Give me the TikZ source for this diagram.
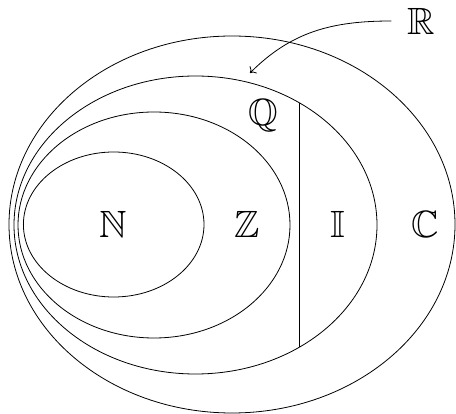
\documentclass[tikz,border=0pt]{standalone}
\usepackage{amssymb}
\usetikzlibrary{arrows.meta}
\begin{document}
\begin{tikzpicture}[x=1pt,y=-1pt,line width=0.8pt,
  setlabel/.style={inner sep=0pt,font=\fontsize{38}{40}\selectfont},
  setellipse/.style={draw}]
\useasboundingbox (0,0) rectangle (456,414);
\draw[setellipse] (232,224.5) ellipse [x radius=223, y radius=188.5];
\draw[setellipse] (195.5,225) ellipse [x radius=181.5, y radius=149];
\draw[setellipse] (154,225) ellipse [x radius=136, y radius=113];
\draw[setellipse] (113.7,224.5) ellipse [x radius=90.3, y radius=72.5];
\coordinate (top) at (299.5,102.7);
\coordinate (bot) at (299.5,347);
\draw (top) -- (bot);
\node[setlabel] (N) at (113,224.5) {$\mathbb{N}$};
\node[setlabel] (Z) at (247,224.5) {$\mathbb{Z}$};
\node[setlabel] (I) at (338,224.5) {$\mathbb{I}$};
\node[setlabel] (C) at (425,224.5) {$\mathbb{C}$};
\node[setlabel] (Q) at (263,116) {$\mathbb{Q}$};
\node[setlabel] (R) at (421.5,21) {$\mathbb{R}$};
\coordinate (tip) at (250,73);
\draw[-{To[length=5pt,width=10pt]}] (R.west) ++(-16,0) to[out=180,in=45] (tip);
\end{tikzpicture}
\end{document}
